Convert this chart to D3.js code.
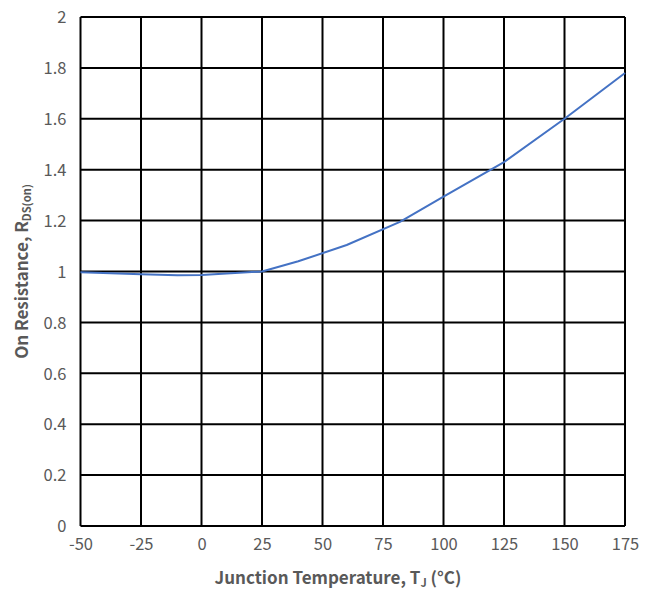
<!DOCTYPE html>
<html><head><meta charset="utf-8">
<script src="https://cdn.jsdelivr.net/npm/d3@7"></script>
<style>body{margin:0;background:#fff}svg{display:block}</style>
</head><body>
<svg id="c" width="659" height="594"></svg>
<script>
const temps = [-50, -25, -10, 0, 25, 40, 60, 82, 100, 125, 150, 175];
const rdsOn = [0.997, 0.989, 0.985, 0.986, 1.0, 1.04, 1.104, 1.195, 1.294, 1.43, 1.60, 1.78];
const xTicks = [-50, -25, 0, 25, 50, 75, 100, 125, 150, 175];
const yTicks = [0, 0.2, 0.4, 0.6, 0.8, 1, 1.2, 1.4, 1.6, 1.8, 2];
const xTitle = "Junction Temperature, T";
const yTitle = "On Resistance, R";

const svg = d3.select("#c");
const L = 80.5, R = 625, T = 17, B = 526;
const x = d3.scaleLinear().domain([-50, 175]).range([L, R]);
const y = d3.scaleLinear().domain([0, 2]).range([B, T]);
const font = "'Noto Sans CJK SC', 'Noto Sans', sans-serif";
const grey = "#595959";

// grid
svg.append("g").selectAll("line").data(xTicks).join("line")
  .attr("x1", d => x(d)).attr("x2", d => x(d)).attr("y1", T).attr("y2", B)
  .attr("stroke", "#000").attr("stroke-width", 2);
svg.append("g").selectAll("line").data(yTicks).join("line")
  .attr("y1", d => y(d)).attr("y2", d => y(d)).attr("x1", L).attr("x2", R)
  .attr("stroke", "#000").attr("stroke-width", 2);

// axes labels via d3 axes
const xa = svg.append("g").attr("transform", `translate(0,${B})`)
  .call(d3.axisBottom(x).tickValues(xTicks).tickSize(0).tickPadding(12).tickFormat(d => String(d)));
const ya = svg.append("g").attr("transform", `translate(${L},0)`)
  .call(d3.axisLeft(y).tickValues(yTicks).tickSize(0).tickPadding(14).tickFormat(d => String(+d.toFixed(1))));
[xa, ya].forEach(a => {
  a.select(".domain").remove();
  a.selectAll("text").attr("fill", grey).style("font-family", font).style("font-size", "16.5px");
});
ya.selectAll("text").attr("dy", "0.35em");

// line
svg.append("path").datum(temps.map((t, i) => [t, rdsOn[i]]))
  .attr("fill", "none").attr("stroke", "#4472C4").attr("stroke-width", 2)
  .attr("stroke-linejoin", "round")
  .attr("d", d3.line().x(d => x(d[0])).y(d => y(d[1])));

// x title
const xt = svg.append("text").attr("x", 338).attr("y", 584).attr("text-anchor", "middle")
  .attr("fill", grey).style("font-family", font).style("font-size", "17px").style("font-weight", "bold");
xt.append("tspan").text(xTitle);
xt.append("tspan").attr("dy", 3).style("font-size", "11px").text("J");
xt.append("tspan").attr("dy", -3).text(" (°C)");

// y title
const yt = svg.append("text").attr("transform", `translate(28,${(T + B) / 2}) rotate(-90)`)
  .attr("text-anchor", "middle")
  .attr("fill", grey).style("font-family", font).style("font-size", "17px").style("font-weight", "bold");
yt.append("tspan").text(yTitle);
yt.append("tspan").attr("dy", 3).style("font-size", "11px").text("DS(on)");
</script>
</body></html>
